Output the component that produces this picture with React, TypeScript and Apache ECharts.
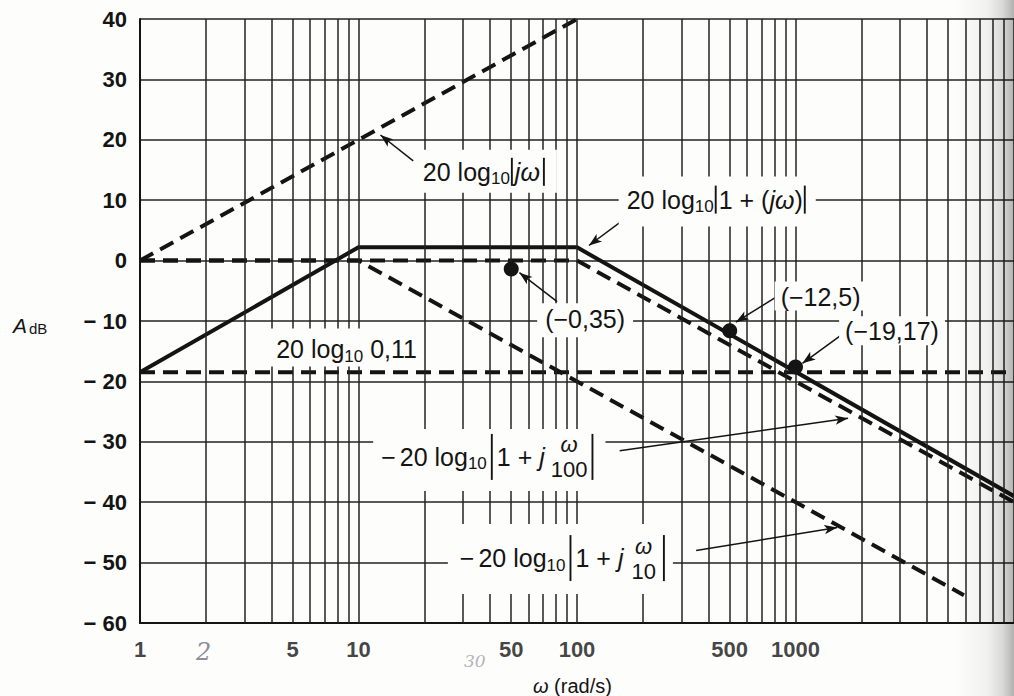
import React, { useEffect, useRef } from 'react';
import * as echarts from 'echarts';

const FONT = '"Liberation Sans", Arial, Helvetica, sans-serif';
const INK = '#141414';
const PAPER = '#fdfdfb';

// ---- axes ----
const omegaMin = 1;
const omegaMax = 10000;
const dbMin = -60;
const dbMax = 40;
const dbStep = 10;
const xTickLabels = [1, 5, 10, 50, 100, 500, 1000];
const gridMantissas = [1, 2, 3, 4, 5, 6, 7, 8, 9];
const gridDecades = [1, 10, 100, 1000];
const gridLast = [10000];

// ---- asymptote lines (omega, dB) ----
const jwLine = [[1, 0], [100, 40]];
const gainLine = [[1, -18.5], [10000, -18.5]];
const pole100Line = [[1, 0], [100, 0], [10000, -40]];
const pole10Line = [[1, 0], [10, 0], [5900, -55.4]];
const totalLine = [[1, -18.5], [10, 2.2], [100, 2.2], [10000, -39]];
const markedPoints = [[50, -1.4], [500, -11.6], [1000, -17.6]];

// ---- annotation arrows (tail -> tip), data coords ----
const arrowTails = [[17.8, 16.5], [163.6, 6.8], [81.1, -6.8], [811, -6.1], [1636, -12.2], [156.8, -31.5], [351, -48.0]];
const arrowTips = [[12.6, 20.8], [113.4, 2.5], [54.5, -2.0], [533, -10.2], [1076, -17.0], [1741, -26.1], [1553, -44.2]];

// ---- annotation label anchors (left edge, vertical centre), data coords ----
const labelAnchors = [[19.7, 14.7], [168.8, 10.1], [71.5, -9.7], [855, -5.95], [1687, -11.7], [4.2, -14.7], [12.7, -32.5], [29.1, -49.25]];

type Run =
  | { k: 't'; t: string; s?: number; dy?: number; it?: boolean }
  | { k: 'bar'; h: number }
  | { k: 'sp'; w: number }
  | { k: 'frac'; top: string; bot: string; s: number; dt: number; db: number };

const T = (t: string, it = false): Run => ({ k: 't', t, it });
const SUB = (t: string): Run => ({ k: 't', t, s: 17, dy: 7 });
const BAR = (h: number): Run => ({ k: 'bar', h });
const SP = (w: number): Run => ({ k: 'sp', w });
const FRAC = (top: string, bot: string): Run => ({ k: 'frac', top, bot, s: 22, dt: -12, db: 13 });

const labelRuns: Run[][] = [
  [T('20 log'), SUB('10'), BAR(28), T('jω', true), SP(2), BAR(28)],
  [T('20 log'), SUB('10'), BAR(28), T('1 + ('), T('jω', true), T(')'), BAR(28)],
  [T('(−0,35)')],
  [T('(−12,5)')],
  [T('(−19,17)')],
  [T('20 log'), SUB('10'), T(' 0,11')],
  [T('−'), SP(4), T('20 log'), SUB('10'), SP(3), BAR(46), SP(2), T('1 + '), T('j', true), SP(6), FRAC('ω', '100'), SP(3), BAR(46)],
  [T('−'), SP(4), T('20 log'), SUB('10'), SP(3), BAR(46), SP(2), T('1 + '), T('j', true), SP(8), FRAC('ω', '10'), SP(6), BAR(46)],
];
// white box padding [top, right, bottom, left]
const labelPads = [
  [22, 10, 21, 8],
  [23, 8, 27, 8],
  [16, 8, 18, 8],
  [15, 6, 14, 6],
  [15, 6, 14, 6],
  [21, 6, 17, 20],
  [28, 10, 34, 8],
  [34, 6, 36, 12],
];

const BASE = 25;

let measureCtx: CanvasRenderingContext2D | null = null;
function measure(text: string, size: number, italic: boolean) {
  if (!measureCtx) measureCtx = document.createElement('canvas').getContext('2d');
  const c = measureCtx as CanvasRenderingContext2D;
  c.font = `${italic ? 'italic ' : ''}${size}px ${FONT}`;
  return c.measureText(text).width;
}

function textEl(text: string, x: number, y: number, size: number, italic: boolean, align = 'left') {
  return {
    type: 'text',
    x,
    y,
    z: 21,
    silent: true,
    style: {
      text,
      fontSize: size,
      fontFamily: FONT,
      fontStyle: italic ? 'italic' : 'normal',
      fill: INK,
      align,
      verticalAlign: 'middle',
    },
  };
}

function buildLabel(runs: Run[], px: number, py: number, pad: number[]) {
  const els: any[] = [];
  let x = px;
  runs.forEach((r) => {
    if (r.k === 't') {
      const s = r.s || BASE;
      els.push(textEl(r.t, x, py + (r.dy || 0), s, !!r.it));
      x += measure(r.t, s, !!r.it);
    } else if (r.k === 'sp') {
      x += r.w;
    } else if (r.k === 'bar') {
      x += 2;
      els.push({
        type: 'line',
        z: 21,
        silent: true,
        shape: { x1: x, y1: py - r.h / 2, x2: x, y2: py + r.h / 2 },
        style: { stroke: INK, lineWidth: 1.9 },
      });
      x += 3;
    } else if (r.k === 'frac') {
      const w = Math.max(measure(r.top, r.s, true), measure(r.bot, r.s, false));
      els.push(textEl(r.top, x + w / 2, py + r.dt, r.s, true, 'center'));
      els.push(textEl(r.bot, x + w / 2, py + r.db, r.s, false, 'center'));
      x += w;
    }
  });
  els.unshift({
    type: 'rect',
    z: 20,
    silent: true,
    shape: { x: px - pad[3], y: py - pad[0], width: x - px + pad[1] + pad[3], height: pad[0] + pad[2] },
    style: { fill: PAPER },
  });
  return els;
}

const gridValues = gridDecades
  .map((d) => gridMantissas.map((m) => m * d))
  .reduce((a, b) => a.concat(b), [] as number[])
  .concat(gridLast)
  .filter((v) => v > omegaMin);

const dashed = (name: string, data: number[][]) => ({
  name,
  type: 'line',
  data,
  z: 3,
  showSymbol: false,
  clip: true,
  lineStyle: { color: INK, width: 4, type: [15, 8] },
});

export default function App() {
  const ref = useRef<HTMLDivElement>(null);
  useEffect(() => {
    document.body.style.margin = '0';
    document.body.style.background = PAPER;
    const chart = echarts.init(ref.current as HTMLDivElement, null, { renderer: 'svg' });
    const option: any = {
      animation: false,
      backgroundColor: PAPER,
      grid: { left: 140, right: -6, top: 19, bottom: 73, containLabel: false },
      xAxis: {
        type: 'log',
        logBase: 10,
        min: omegaMin,
        max: omegaMax,
        axisLine: { show: true, onZero: false, lineStyle: { color: INK, width: 2 } },
        axisTick: { show: false },
        axisLabel: { show: false },
        splitLine: { show: false },
      },
      yAxis: {
        type: 'value',
        min: dbMin,
        max: dbMax,
        interval: dbStep,
        axisLine: { show: true, lineStyle: { color: INK, width: 2 } },
        axisTick: { show: false },
        axisLabel: {
          margin: 13,
          color: INK,
          fontFamily: FONT,
          fontWeight: 'bold',
          fontSize: 22,
          formatter: (v: number) => (v < 0 ? '− ' + Math.abs(v) : String(v)),
        },
        splitLine: { show: true, lineStyle: { color: '#222', width: 1.6 } },
      },
      series: [
        {
          name: 'grid',
          type: 'line',
          data: [[1, dbMin]],
          showSymbol: false,
          z: 1,
          lineStyle: { opacity: 0 },
          markLine: {
            silent: true,
            symbol: ['none', 'none'],
            label: { show: false },
            lineStyle: { color: '#222', width: 1.5, type: 'solid' },
            data: gridValues.map((v) => ({ xAxis: v })),
          },
        },
        dashed('20 log|jω|', jwLine),
        dashed('20 log 0,11', gainLine),
        dashed('−20 log|1 + jω/100|', pole100Line),
        dashed('−20 log|1 + jω/10|', pole10Line),
        {
          name: 'total',
          type: 'line',
          data: totalLine,
          z: 4,
          showSymbol: false,
          lineStyle: { color: INK, width: 4, type: 'solid' },
        },
        {
          name: 'points',
          type: 'scatter',
          data: markedPoints,
          z: 5,
          symbolSize: 15,
          itemStyle: { color: INK, opacity: 1 },
        },
        {
          name: 'arrows',
          type: 'line',
          data: [[1, dbMin]],
          showSymbol: false,
          z: 6,
          lineStyle: { opacity: 0 },
          markLine: {
            silent: true,
            symbol: ['none', 'arrow'],
            symbolSize: [7, 13],
            label: { show: false },
            lineStyle: { color: INK, width: 1.5, type: 'solid' },
            data: arrowTails.map((t, i) => [{ coord: t }, { coord: arrowTips[i] }]),
          },
        },
        {
          name: 'xTicks',
          type: 'scatter',
          data: xTickLabels.map((v) => [v, dbMin]),
          symbolSize: 0,
          z: 7,
          label: {
            show: true,
            position: 'bottom',
            distance: 15,
            color: INK,
            fontFamily: FONT,
            fontWeight: 'bold',
            fontSize: 22,
            formatter: (p: any) => String(p.value[0]),
          },
        },
      ],
    };
    chart.setOption(option);

    const els: any[] = [];
    labelRuns.forEach((runs, i) => {
      const [px, py] = chart.convertToPixel({ gridIndex: 0 } as any, labelAnchors[i]) as number[];
      buildLabel(runs, px, py, labelPads[i]).forEach((e) => els.push(e));
    });
    // axis names
    els.push({
      type: 'text', left: 13, top: 315, z: 21, silent: true,
      style: { text: 'A', fontSize: 21, fontStyle: 'italic', fontFamily: FONT, fill: INK },
    });
    els.push({
      type: 'text', left: 29, top: 321, z: 21, silent: true,
      style: { text: 'dB', fontSize: 15, fontFamily: FONT, fill: INK },
    });
    els.push({
      type: 'text', left: 533, top: 676, z: 21, silent: true,
      style: {
        text: '{i|ω} (rad/s)', fontSize: 20, fontFamily: FONT, fill: INK,
        rich: { i: { fontStyle: 'italic', fontSize: 20, fontFamily: FONT, fill: INK } },
      },
    });
    // pencil marks
    els.push({
      type: 'text', left: 196, top: 640, z: 21, silent: true,
      style: { text: '2', fontSize: 24, fontStyle: 'italic', fontFamily: '"DejaVu Serif", serif', fill: '#8e8e9c' },
    });
    els.push({
      type: 'text', left: 464, top: 652, z: 21, silent: true,
      style: { text: '30', fontSize: 17, fontStyle: 'italic', fontFamily: '"DejaVu Serif", serif', fill: '#b4b4be' },
    });
    // scan shading at right edge
    els.push({
      type: 'rect', z: 30, silent: true,
      shape: { x: 955, y: 0, width: 59, height: 696 },
      style: {
        fill: new echarts.graphic.LinearGradient(0, 0, 1, 0, [
          { offset: 0, color: 'rgba(0,0,0,0)' },
          { offset: 0.55, color: 'rgba(0,0,0,0.05)' },
          { offset: 0.8, color: 'rgba(0,0,0,0.14)' },
          { offset: 1, color: 'rgba(0,0,0,0.3)' },
        ]),
      },
    });
    chart.setOption({ graphic: els });
    return () => chart.dispose();
  }, []);
  return <div ref={ref} style={{ width: 1014, height: 696 }} />;
}
